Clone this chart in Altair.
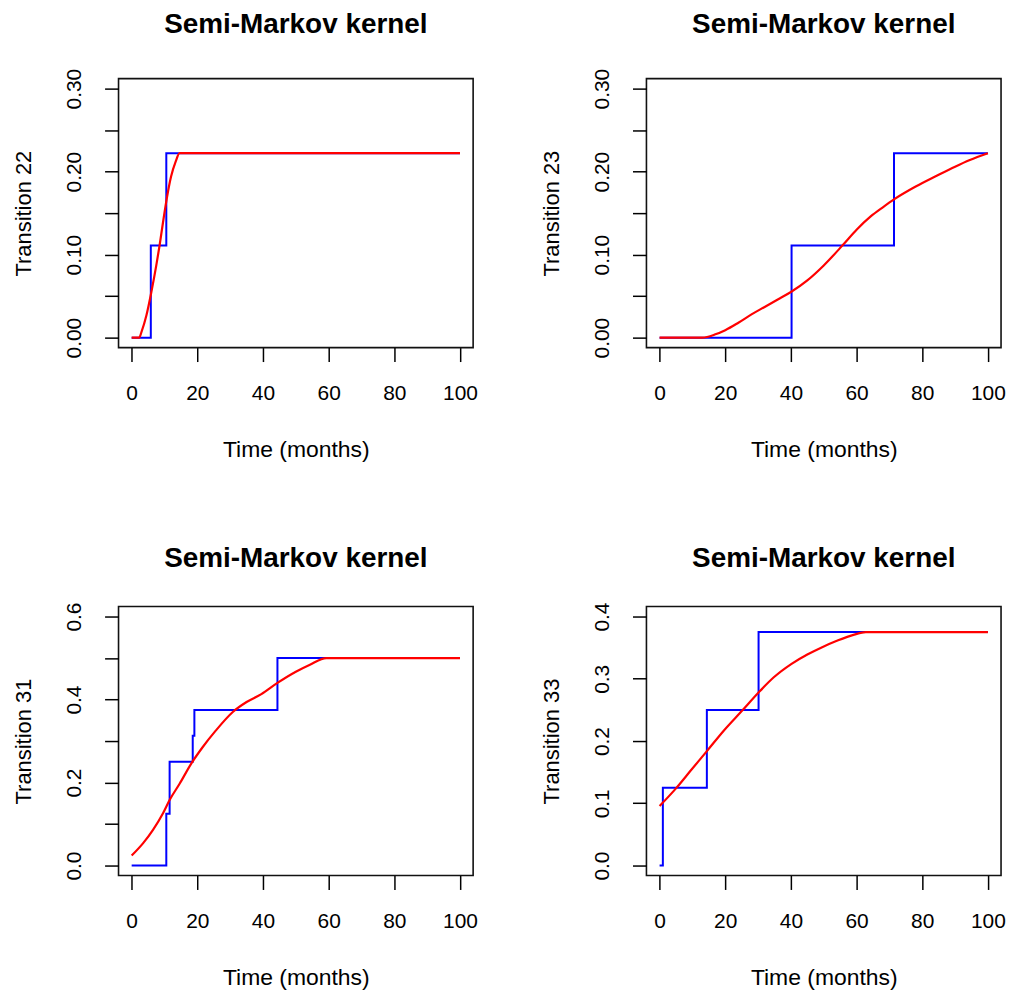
import altair as alt
import pandas as pd

# ---------------- data ----------------
x_ticks = [0, 20, 40, 60, 80, 100]

# Transition 22
p1_blue_x = [0, 5.83, 10.55, 100]
p1_blue_y = [0, 0.1111, 0.2222, 0.2222]
p1_red_x = [0, 2.3, 3.0, 4.5, 6.0, 7.5, 8.5, 9.55, 10.8, 12.0, 13.4, 14.6, 100]
p1_red_y = [0, 0, 0.007, 0.027, 0.055, 0.087, 0.111, 0.139, 0.170, 0.194, 0.212, 0.2222, 0.2222]

# Transition 23
p2_blue_x = [0, 40.2, 71.4, 100]
p2_blue_y = [0, 0.1111, 0.2222, 0.2222]
p2_red_x = [0, 13, 17, 20, 24, 28, 32, 36, 40, 45, 50, 55.8, 60, 64.3, 68, 71.4, 78, 84.4, 90, 94.5, 100]
p2_red_y = [0, 0, 0.004, 0.009, 0.018, 0.028, 0.037, 0.046, 0.055, 0.069, 0.087, 0.1115, 0.130,
            0.146, 0.157, 0.1665, 0.182, 0.195, 0.206, 0.214, 0.2222]

# Transition 31
p3_blue_x = [0, 10.55, 11.56, 18.6, 19.1, 44.4, 100]
p3_blue_y = [0, 0.125, 0.25, 0.3125, 0.375, 0.5, 0.5]
p3_red_x = [0, 3.5, 6.5, 9.55, 11.56, 14.6, 18.1, 21.6, 25.6, 30.8, 35, 39.5, 44.4, 50, 54.3, 59.3, 100]
p3_red_y = [0.024, 0.054, 0.086, 0.126, 0.158, 0.197, 0.245, 0.285, 0.325, 0.370, 0.394,
            0.413, 0.440, 0.467, 0.484, 0.5, 0.5]

# Transition 33
p4_blue_x = [0, 1.0, 14.4, 30.15, 100]
p4_blue_y = [0, 0.125, 0.25, 0.375, 0.375]
p4_red_x = [0, 5.0, 9.55, 14.6, 19.6, 25.1, 30.15, 34.7, 40.2, 45, 49.2, 54, 59.3, 62.8, 100]
p4_red_y = [0.0956, 0.124, 0.153, 0.185, 0.217, 0.2486, 0.278, 0.302, 0.324, 0.339, 0.350,
            0.361, 0.371, 0.375, 0.375]

y_ticks_a = [0, 0.05, 0.10, 0.15, 0.20, 0.25, 0.30]
y_ticks_b = [0, 0.1, 0.2, 0.3, 0.4, 0.5, 0.6]
y_ticks_c = [0, 0.1, 0.2, 0.3, 0.4]

FONT = "Liberation Sans"
W, H = 356, 270


def panel(bx, by, rx, ry, ylabel, ydom, yvals, fmt, step):
    blue = pd.DataFrame({"t": bx, "k": by})
    red = pd.DataFrame({"t": rx, "k": ry})
    xenc = alt.X(
        "t:Q",
        scale=alt.Scale(domain=[-4, 104], nice=False, zero=False),
        axis=alt.Axis(
            values=x_ticks, title="Time (months)", grid=False, domain=False,
            tickSize=14, tickWidth=1.5, tickColor="black",
            labelFont=FONT, labelFontSize=21, labelColor="black", labelPadding=21,
            labelBaseline="top", labelFlush=False, labelOverlap=False,
            titleFont=FONT, titleFontSize=23, titleFontWeight="normal", titleColor="black",
            titleY=109, titleBaseline="alphabetic",
        ),
    )
    yenc = alt.Y(
        "k:Q",
        scale=alt.Scale(domain=ydom, nice=False, zero=False),
        axis=alt.Axis(
            values=yvals, title=ylabel, grid=False, domain=False,
            labelExpr=f"round(datum.value*100) % {step} == 0 ? format(datum.value, '{fmt}') : ''",
            tickSize=14, tickWidth=1.5, tickColor="black",
            labelFont=FONT, labelFontSize=21, labelColor="black", labelPadding=24,
            labelAngle=270, labelAlign="center", labelBaseline="alphabetic",
            labelFlush=False, labelOverlap=False,
            titleFont=FONT, titleFontSize=22, titleFontWeight="normal", titleColor="black",
            titleAngle=270, titleX=-88, titleY=H / 2, titleAlign="center",
            titleBaseline="alphabetic",
        ),
    )
    b = alt.Chart(blue).mark_line(color="#0000FF", strokeWidth=2, interpolate="step-after").encode(xenc, yenc)
    r = alt.Chart(red).mark_line(color="#FF0000", strokeWidth=2.2, interpolate="monotone").encode(x="t:Q", y="k:Q")
    return alt.layer(b, r).properties(
        width=W, height=H,
        title=alt.TitleParams(
            "Semi-Markov kernel", font=FONT, fontSize=28, fontWeight="bold", color="black",
            anchor="middle", baseline="alphabetic", offset=7,
        ),
    )


p1 = panel(p1_blue_x, p1_blue_y, p1_red_x, p1_red_y, "Transition 22", [-0.012, 0.312], y_ticks_a, ".2f", 10)
p2 = panel(p2_blue_x, p2_blue_y, p2_red_x, p2_red_y, "Transition 23", [-0.012, 0.312], y_ticks_a, ".2f", 10)
p3 = panel(p3_blue_x, p3_blue_y, p3_red_x, p3_red_y, "Transition 31", [-0.024, 0.624], y_ticks_b, ".1f", 20)
p4 = panel(p4_blue_x, p4_blue_y, p4_red_x, p4_red_y, "Transition 33", [-0.016, 0.416], y_ticks_c, ".1f", 10)

chart = alt.concat(p1, p2, p3, p4, columns=2).properties(
    spacing={"row": 260, "column": 174},
    bounds="flush",
    padding={"left": 12, "top": 8, "right": 5, "bottom": 5},
    background="white",
).configure_view(stroke="#111111", strokeWidth=1.6)

chart.save("out.html", embed_options={"renderer": "svg", "actions": False})
